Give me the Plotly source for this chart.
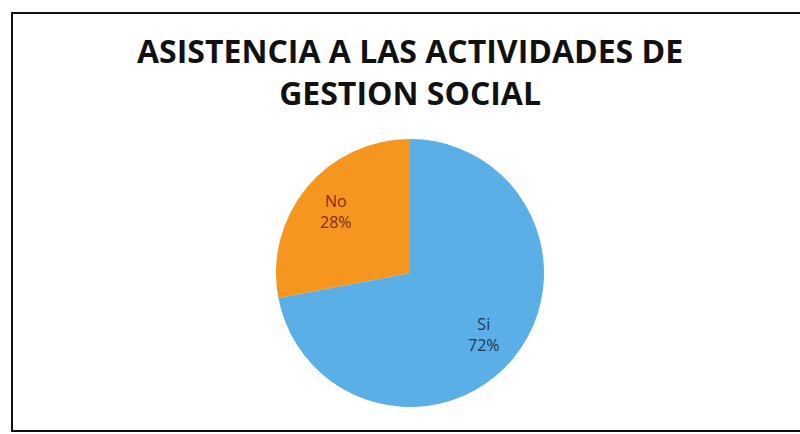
import math
import plotly.graph_objects as go

labels = ["Si", "No"]
values = [72, 28]
colors = ["#5AB0E6", "#F7961E"]
text_colors = ["#1E3550", "#7A2E0C"]
title_text = "ASISTENCIA A LAS ACTIVIDADES DE<br>GESTION SOCIAL"

W, H = 800, 434
cx, cy, r = 410, 273, 134

fig = go.Figure(go.Pie(
    labels=labels,
    values=values,
    sort=False,
    direction="clockwise",
    rotation=0,
    marker=dict(colors=colors, line=dict(color="#FFFFFF", width=0)),
    textinfo="none",
    showlegend=False,
    hoverinfo="label+percent",
    domain=dict(x=[(cx - r) / W, (cx + r) / W],
                y=[(H - cy - r) / H, (H - cy + r) / H]),
))

# data labels placed at slice mid-angles
total = sum(values)
annotations = []
start = 0.0
label_frac = 0.72
for lab, val, tc in zip(labels, values, text_colors):
    frac = val / total
    mid = (start + frac / 2) * 2 * math.pi
    start += frac
    px = cx + math.sin(mid) * r * label_frac
    py = cy - math.cos(mid) * r * label_frac
    annotations.append(dict(
        x=px / W, y=1 - py / H, xref="paper", yref="paper",
        text=f"{lab}<br>{round(frac * 100)}%", showarrow=False,
        font=dict(family="Open Sans", size=16, color=tc),
        xanchor="center", yanchor="middle",
    ))

annotations.append(dict(
    x=410 / W, y=1 - 72 / H, xref="paper", yref="paper",
    text=title_text, showarrow=False,
    font=dict(family="Open Sans", size=32, color="#111111", weight="bold"),
    xanchor="center", yanchor="middle",
))

fig.update_layout(
    width=W, height=H,
    margin=dict(l=0, r=0, t=0, b=0),
    paper_bgcolor="white",
    plot_bgcolor="white",
    annotations=annotations,
    shapes=[dict(
        type="rect", xref="paper", yref="paper",
        x0=12 / W, x1=1.02, y0=3 / H, y1=1 - 13 / H,
        line=dict(color="#111111", width=2),
    )],
)

fig.write_html("out.html")
